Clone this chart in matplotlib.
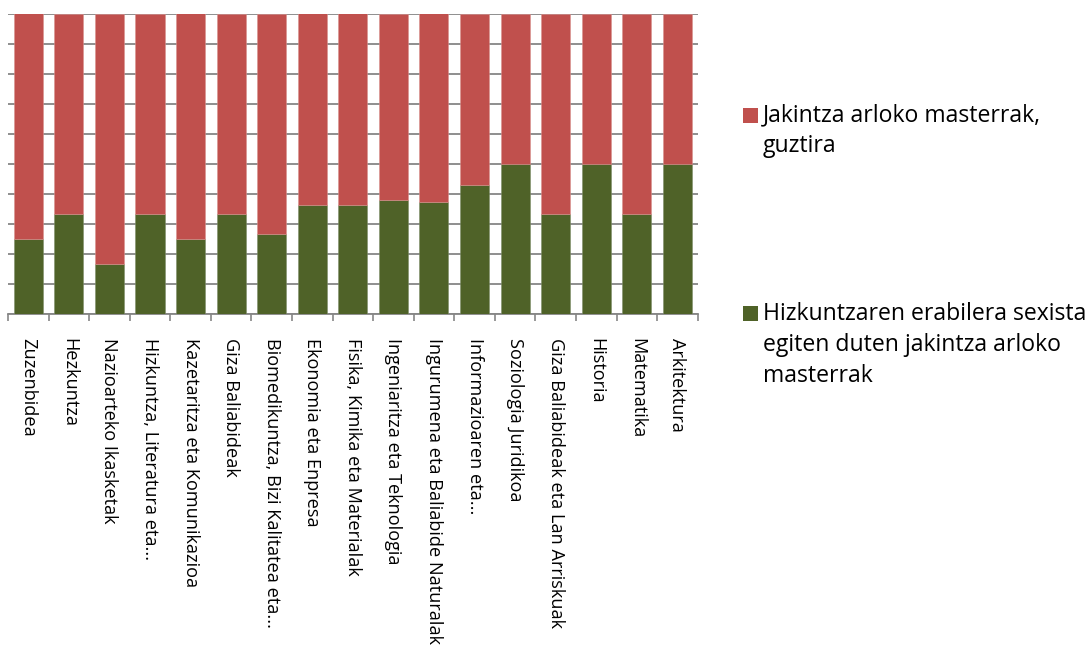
import matplotlib
matplotlib.use("Agg")
import matplotlib.pyplot as plt
from matplotlib.patches import Rectangle
import numpy as np

categories = [
    "Zuzenbidea", "Hezkuntza", "Nazioarteko Ikasketak", "Hizkuntza, Literatura eta...",
    "Kazetaritza eta Komunikazioa", "Giza Baliabideak", "Biomedikuntza, Bizi Kalitatea eta...",
    "Ekonomia eta Enpresa", "Fisika, Kimika eta Materialak", "Ingeniaritza eta Teknologia",
    "Ingurumena eta Baliabide Naturalak", "Informazioaren eta...", "Soziologia Juridikoa",
    "Giza Baliabideak eta Lan Arriskuak", "Historia", "Matematika", "Arkitektura",
]
# share (%) of masters with sexist language use
sexist_pct = [25.0, 33.3, 16.7, 33.3, 25.0, 33.3, 26.7, 36.4, 36.4, 37.9,
              37.4, 42.9, 50.0, 33.3, 50.0, 33.3, 50.0]
# remaining share (%) of all masters in the field
total_pct = [100 - v for v in sexist_pct]

label_total = "Jakintza arloko masterrak,\nguztira"
label_sexist = "Hizkuntzaren erabilera sexista\negiten duten jakintza arloko\nmasterrak"

red = "#C0504D"
green = "#4F6228"
grid_c = "#868686"

plt.rcParams['font.family'] = ['Open Sans', 'DejaVu Sans']

fig = plt.figure(figsize=(10.92, 6.48), dpi=100)
W, H = 1092, 648
ax = fig.add_axes([8 / W, 1 - 314 / H, (697.7 - 8) / W, (314 - 13.5) / H])

x = np.arange(len(categories))
bw = 0.715
ax.bar(x, sexist_pct, bw, color=green, zorder=3, edgecolor="#7f8f6a", linewidth=0.4)
ax.bar(x, total_pct, bw, bottom=sexist_pct, color=red, zorder=3, edgecolor="#d9928f", linewidth=0.4)

ax.set_xlim(-0.5, len(categories) - 0.5)
ax.set_ylim(0, 100)
ax.set_yticks(np.arange(0, 101, 10))
ax.set_yticklabels([])
ax.tick_params(axis='y', length=0)
ax.yaxis.grid(True, color=grid_c, linewidth=1.3, zorder=0)
ax.set_axisbelow(True)

ax.set_xticks(np.arange(-0.5, len(categories), 1.0))
ax.set_xticklabels([])
ax.tick_params(axis='x', which='major', length=5, width=1.2, color=grid_c, direction='out')
ax.set_xticks(x, minor=True)
ax.set_xticklabels(categories, minor=True, rotation=270, ha='center', va='top', fontsize=13.1)
ax.tick_params(axis='x', which='minor', length=0, pad=17)

for s in ['top', 'right', 'left']:
    ax.spines[s].set_visible(False)
ax.spines['bottom'].set_color(grid_c)
ax.spines['bottom'].set_linewidth(1.3)

# legend
fs_leg = 16.6
fig.patches.append(Rectangle((743 / W, 1 - 123 / H), 15 / W, 15 / H, transform=fig.transFigure,
                             facecolor=red, edgecolor='none'))
fig.text(763 / W, 1 - 103 / H, label_total, fontsize=fs_leg, va='top', ha='left',
         linespacing=1.4, color="#000000")
fig.patches.append(Rectangle((743 / W, 1 - 321 / H), 15 / W, 15 / H, transform=fig.transFigure,
                             facecolor=green, edgecolor='none'))
fig.text(763 / W, 1 - 301.5 / H, label_sexist, fontsize=fs_leg, va='top', ha='left',
         linespacing=1.4, color="#000000")

fig.savefig("out.png", dpi=100)
